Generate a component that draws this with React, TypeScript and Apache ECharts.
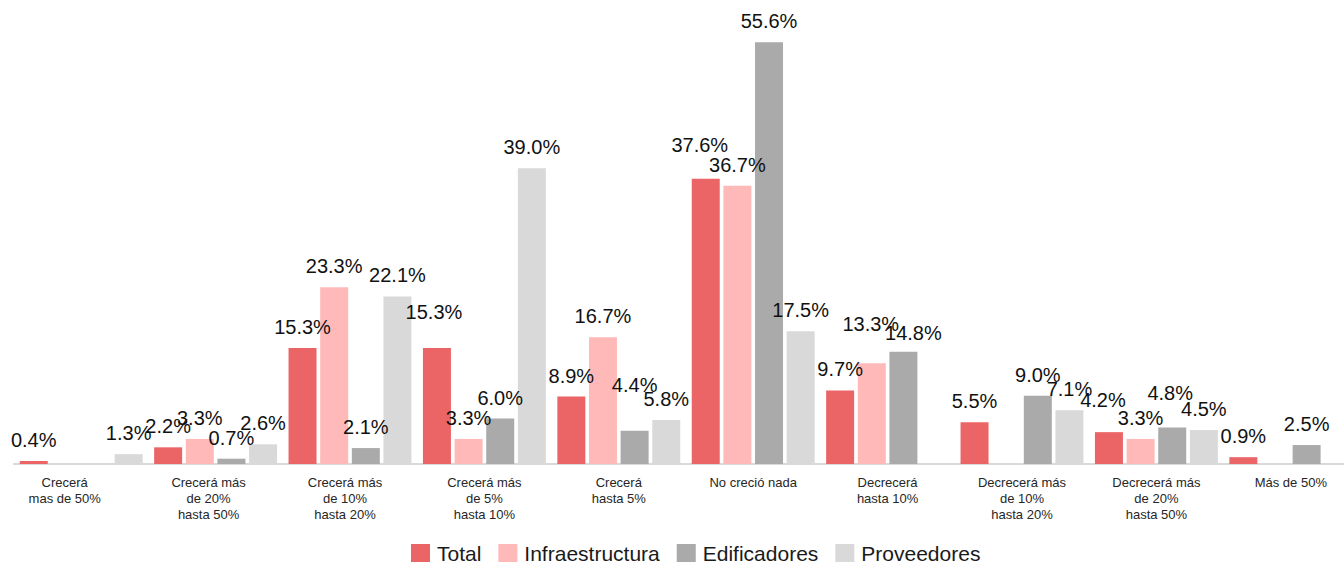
import React, { useEffect, useRef } from "react";
import * as echarts from "echarts";

const categories = [
  "Crecerá\nmas de 50%",
  "Crecerá más\nde 20%\nhasta 50%",
  "Crecerá más\nde 10%\nhasta 20%",
  "Crecerá más\nde 5%\nhasta 10%",
  "Crecerá\nhasta 5%",
  "No creció nada",
  "Decrecerá\nhasta 10%",
  "Decrecerá más\nde 10%\nhasta 20%",
  "Decrecerá más\nde 20%\nhasta 50%",
  "Más de 50%",
];

const seriesNames = ["Total", "Infraestructura", "Edificadores", "Proveedores"];
const total = [0.4, 2.2, 15.3, 15.3, 8.9, 37.6, 9.7, 5.5, 4.2, 0.9];
const infraestructura = [0, 3.3, 23.3, 3.3, 16.7, 36.7, 13.3, 0, 3.3, 0];
const edificadores = [0, 0.7, 2.1, 6.0, 4.4, 55.6, 14.8, 9.0, 4.8, 2.5];
const proveedores = [1.3, 2.6, 22.1, 39.0, 5.8, 17.5, 0, 7.1, 4.5, 0];
const colors = ["#EC6566", "#FFB9B9", "#AAAAAA", "#D9D9D9"];

// x-axis label horizontal nudges (padding-right, px)
const labelShift = [33, 14, 10, 0, 0, 0, 0, 0, 0, 0];

// data-label nudges [series][category] => [dx, dy]
const labelNudges: Record<string, [number, number]> = {
  "0-3": [-3, -15],
  "2-4": [0, -25],
  "0-5": [-6, -13],
  "1-6": [-1, -18],
  "2-6": [10, 2],
  "0-8": [-6, -11],
  "2-8": [-2, -14],
};

const FONT = 'Arial, "Liberation Sans", sans-serif';

export default function App() {
  const ref = useRef<HTMLDivElement>(null);
  useEffect(() => {
    if (!ref.current) return;
    const chart = echarts.init(ref.current, undefined, { renderer: "svg" });
    const values = [total, infraestructura, edificadores, proveedores];
    chart.setOption({
      animation: false,
      textStyle: { fontFamily: FONT },
      grid: { left: 14, top: 9, width: 1344, height: 455, containLabel: false },
      legend: {
        data: seriesNames,
        left: 411,
        top: 543,
        padding: 0,
        itemWidth: 19,
        itemHeight: 19,
        itemGap: 17,
        icon: "rect",
        textStyle: { fontSize: 21, color: "#1a1a1a", fontFamily: FONT, padding: [0, 0, 0, 2] },
      },
      xAxis: {
        type: "category",
        data: categories.map((c, i) => ({
          value: c,
          textStyle: { padding: [0, labelShift[i], 0, 0] },
        })),
        axisLine: { show: true, lineStyle: { color: "#D9D9D9", width: 2 } },
        axisTick: { show: false },
        axisLabel: {
          interval: 0,
          margin: 10,
          fontSize: 13,
          lineHeight: 16,
          color: "#262626",
          fontFamily: FONT,
          align: "center",
        },
      },
      yAxis: {
        type: "value",
        min: 0,
        max: 60,
        show: false,
        splitLine: { show: false },
      },
      series: seriesNames.map((name, i) => ({
        name,
        type: "bar",
        data: values[i].map((v, j) => {
          const n = labelNudges[`${i}-${j}`];
          return n ? { value: v, label: { offset: n } } : { value: v };
        }),
        barWidth: 28,
        barGap: "13%",
        itemStyle: { color: colors[i] },
        label: {
          show: true,
          position: "top",
          distance: 11,
          fontSize: 20,
          color: "#111",
          fontFamily: FONT,
          formatter: (p: any) => (p.value ? Number(p.value).toFixed(1) + "%" : ""),
        },
      })),
    });
    return () => chart.dispose();
  }, []);
  return (
    <div style={{ position: "absolute", left: 0, top: 0, width: 1344, height: 562, overflow: "hidden", background: "#fff" }}>
      <div ref={ref} style={{ width: 1372, height: 562 }} />
    </div>
  );
}
